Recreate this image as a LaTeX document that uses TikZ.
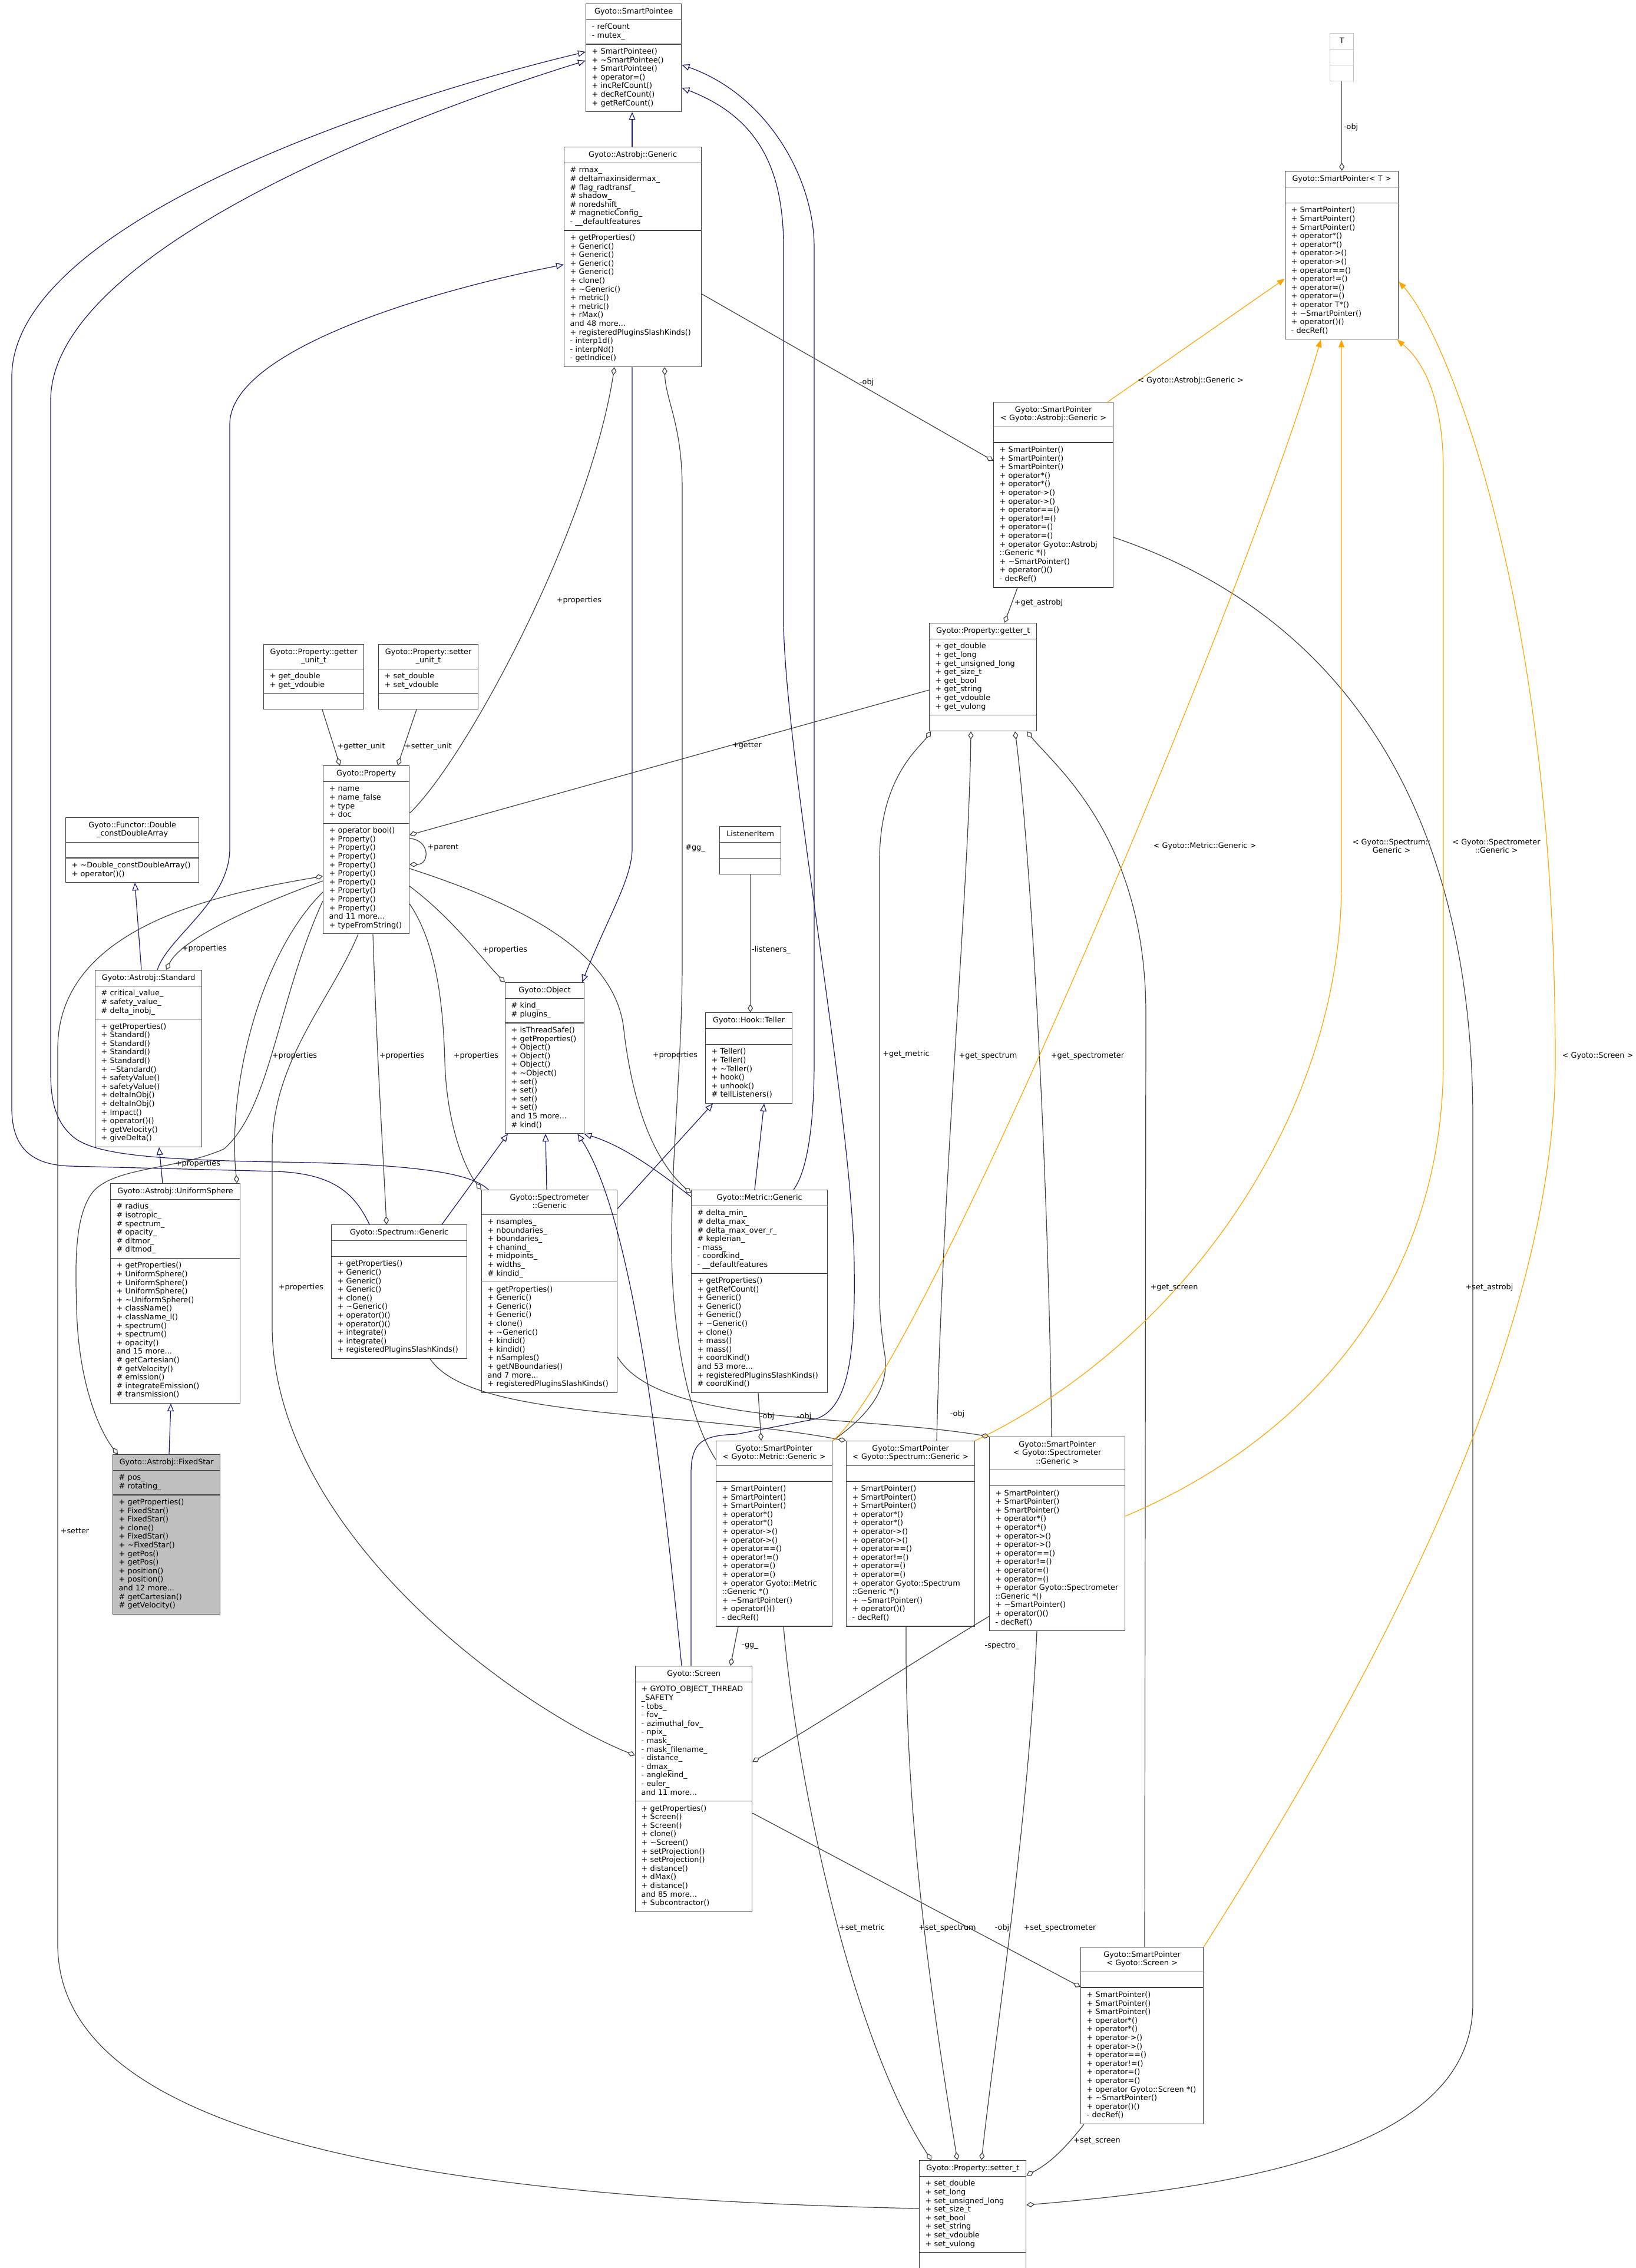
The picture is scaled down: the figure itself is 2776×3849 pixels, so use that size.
\documentclass[tikz,border=0pt]{standalone}
\usepackage{fontspec}
\setmainfont{DejaVu Sans}
\usetikzlibrary{shapes.multipart,arrows.meta,calc}
\definecolor{edgegray}{HTML}{404040}
\definecolor{inhblue}{HTML}{191970}
\definecolor{instorange}{HTML}{FFA500}
\definecolor{focusgray}{HTML}{BFBFBF}
\setlength{\parindent}{0pt}
\newcommand\tld{\textasciitilde}
\newcommand\umlclass[8][]{%
  \node[cls,#1,anchor=north west,text width=#5pt] (#2) at (#3,#4)
  {\centering\strut#6\strut\par\nodepart{two}\raggedright\strut#7\strut\par\nodepart{three}\raggedright\strut#8\strut\par};}
\newcommand\spmethods[1]{+ SmartPointer()\\+ SmartPointer()\\+ SmartPointer()\\+ operator*()\\+ operator*()\\+ operator->()\\+ operator->()\\+ operator==()\\+ operator!=()\\+ operator=()\\+ operator=()\\#1\\+ \tld SmartPointer()\\+ operator()()\\- decRef()}
\begin{document}
\begin{tikzpicture}[x=1pt,y=-1pt,
  cls/.style={draw=edgegray, line width=1.3pt, fill=white, rectangle split, rectangle split parts=3,
    inner xsep=10pt, inner ysep=5.5pt, font=\fontsize{12.8}{14.6}\selectfont, text=black},
  lbl/.style={font=\fontsize{12.8}{14.6}\selectfont, inner sep=0pt, align=center, text=black},
  inh/.style={draw=inhblue, line width=1.2pt, -{Triangle[open,length=13pt,width=11pt]}},
  agg/.style={draw=edgegray, line width=1.2pt, -{Diamond[open,length=14pt,width=9pt]}},
  inst/.style={draw=instorange, line width=1.2pt, -{Triangle[length=13pt,width=10pt]}}]
\fill[white] (0,0) rectangle (2776,3849);
\useasboundingbox (0,0) rectangle (2776,3849);

% ---------------- classes ----------------
\umlclass{spee}{994}{6}{142}{Gyoto::SmartPointee}
 {- refCount\\- mutex\_}
 {+ SmartPointee()\\+ \tld SmartPointee()\\+ SmartPointee()\\+ operator=()\\+ incRefCount()\\+ decRefCount()\\+ getRefCount()}

\umlclass{agen}{957}{249}{213}{Gyoto::Astrobj::Generic}
 {\# rmax\_\\\# deltamaxinsidermax\_\\\# flag\_radtransf\_\\\# shadow\_\\\# noredshift\_\\\# magneticConfig\_\\- \_\_defaultfeatures}
 {+ getProperties()\\+ Generic()\\+ Generic()\\+ Generic()\\+ Generic()\\+ clone()\\+ \tld Generic()\\+ metric()\\+ metric()\\+ rMax()\\and 48 more...\\+ registeredPluginsSlashKinds()\\- interp1d()\\- interpNd()\\- getIndice()}

\umlclass[draw=focusgray]{tT}{2257}{56}{20}{T}{}{}

\umlclass{spT}{2181}{290}{172}{Gyoto::SmartPointer< T >}{}
 {\spmethods{+ operator T*()}}

\umlclass{spA}{1686}{682}{183}{Gyoto::SmartPointer\\< Gyoto::Astrobj::Generic >}{}
 {\spmethods{+ operator Gyoto::Astrobj\\::Generic *()}}

\umlclass{gett}{1577}{1057}{162}{Gyoto::Property::getter\_t}
 {+ get\_double\\+ get\_long\\+ get\_unsigned\_long\\+ get\_size\_t\\+ get\_bool\\+ get\_string\\+ get\_vdouble\\+ get\_vulong}{}

\umlclass{gunit}{447}{1093}{150}{Gyoto::Property::getter\\\_unit\_t}
 {+ get\_double\\+ get\_vdouble}{}

\umlclass{sunit}{642}{1093}{149}{Gyoto::Property::setter\\\_unit\_t}
 {+ set\_double\\+ set\_vdouble}{}

\umlclass{prop}{548}{1299}{126}{Gyoto::Property}
 {+ name\\+ name\_false\\+ type\\+ doc}
 {+ operator bool()\\+ Property()\\+ Property()\\+ Property()\\+ Property()\\+ Property()\\+ Property()\\+ Property()\\+ Property()\\+ Property()\\and 11 more...\\+ typeFromString()}

\umlclass{func}{111}{1387}{206}{Gyoto::Functor::Double\\\_constDoubleArray}{}
 {+ \tld Double\_constDoubleArray()\\+ operator()()}

\umlclass{std}{161}{1646}{161}{Gyoto::Astrobj::Standard}
 {\# critical\_value\_\\\# safety\_value\_\\\# delta\_inobj\_}
 {+ getProperties()\\+ Standard()\\+ Standard()\\+ Standard()\\+ Standard()\\+ \tld Standard()\\+ safetyValue()\\+ safetyValue()\\+ deltaInObj()\\+ deltaInObj()\\+ Impact()\\+ operator()()\\+ getVelocity()\\+ giveDelta()}

\umlclass{usph}{187}{2008}{200}{Gyoto::Astrobj::UniformSphere}
 {\# radius\_\\\# isotropic\_\\\# spectrum\_\\\# opacity\_\\\# dltmor\_\\\# dltmod\_}
 {+ getProperties()\\+ UniformSphere()\\+ UniformSphere()\\+ UniformSphere()\\+ \tld UniformSphere()\\+ className()\\+ className\_l()\\+ spectrum()\\+ spectrum()\\+ opacity()\\and 15 more...\\\# getCartesian()\\\# getVelocity()\\\# emission()\\\# integrateEmission()\\\# transmission()}

\umlclass[fill=focusgray]{fstar}{191}{2468}{162}{Gyoto::Astrobj::FixedStar}
 {\# pos\_\\\# rotating\_}
 {+ getProperties()\\+ FixedStar()\\+ FixedStar()\\+ clone()\\+ FixedStar()\\+ \tld FixedStar()\\+ getPos()\\+ getPos()\\+ position()\\+ position()\\and 12 more...\\\# getCartesian()\\\# getVelocity()}

\umlclass{spec}{562}{2078}{210}{Gyoto::Spectrum::Generic}{}
 {+ getProperties()\\+ Generic()\\+ Generic()\\+ Generic()\\+ clone()\\+ \tld Generic()\\+ operator()()\\+ operator()()\\+ integrate()\\+ integrate()\\+ registeredPluginsSlashKinds()}

\umlclass{smtr}{817}{2019}{210}{Gyoto::Spectrometer\\::Generic}
 {+ nsamples\_\\+ nboundaries\_\\+ boundaries\_\\+ chanind\_\\+ midpoints\_\\+ widths\_\\\# kindid\_}
 {+ getProperties()\\+ Generic()\\+ Generic()\\+ Generic()\\+ clone()\\+ \tld Generic()\\+ kindid()\\+ kindid()\\+ nSamples()\\+ getNBoundaries()\\and 7 more...\\+ registeredPluginsSlashKinds()}

\umlclass{obj}{857}{1667}{114}{Gyoto::Object}
 {\# kind\_\\\# plugins\_}
 {+ isThreadSafe()\\+ getProperties()\\+ Object()\\+ Object()\\+ Object()\\+ \tld Object()\\+ set()\\+ set()\\+ set()\\+ set()\\and 15 more...\\\# kind()}

\umlclass{lst}{1221}{1402}{84}{ListenerItem}{}{}

\umlclass{tel}{1197}{1718}{127}{Gyoto::Hook::Teller}{}
 {+ Teller()\\+ Teller()\\+ \tld Teller()\\+ hook()\\+ unhook()\\\# tellListeners()}

\umlclass{met}{1173}{2019}{211}{Gyoto::Metric::Generic}
 {\# delta\_min\_\\\# delta\_max\_\\\# delta\_max\_over\_r\_\\\# keplerian\_\\- mass\_\\- coordkind\_\\- \_\_defaultfeatures}
 {+ getProperties()\\+ getRefCount()\\+ Generic()\\+ Generic()\\+ Generic()\\+ \tld Generic()\\+ clone()\\+ mass()\\+ mass()\\+ coordKind()\\and 53 more...\\+ registeredPluginsSlashKinds()\\\# coordKind()}

\umlclass{spM}{1215}{2445}{177}{Gyoto::SmartPointer\\< Gyoto::Metric::Generic >}{}
 {\spmethods{+ operator Gyoto::Metric\\::Generic *()}}

\umlclass{spS}{1436}{2445}{198}{Gyoto::SmartPointer\\< Gyoto::Spectrum::Generic >}{}
 {\spmethods{+ operator Gyoto::Spectrum\\::Generic *()}}

\umlclass{spR}{1679}{2438}{210}{Gyoto::SmartPointer\\< Gyoto::Spectrometer\\::Generic >}{}
 {\spmethods{+ operator Gyoto::Spectrometer\\::Generic *()}}

\umlclass{scr}{1078}{2827}{178}{Gyoto::Screen}
 {+ GYOTO\_OBJECT\_THREAD\\\_SAFETY\\- tobs\_\\- fov\_\\- azimuthal\_fov\_\\- npix\_\\- mask\_\\- mask\_filename\_\\- distance\_\\- dmax\_\\- anglekind\_\\- euler\_\\and 11 more...}
 {+ getProperties()\\+ Screen()\\+ Screen()\\+ clone()\\+ \tld Screen()\\+ setProjection()\\+ setProjection()\\+ distance()\\+ dMax()\\+ distance()\\and 85 more...\\+ Subcontractor()}

\umlclass{spC}{1834}{3304}{188}{Gyoto::SmartPointer\\< Gyoto::Screen >}{}
 {\spmethods{+ operator Gyoto::Screen *()}}

\umlclass{sett}{1560}{3666}{161}{Gyoto::Property::setter\_t}
 {+ set\_double\\+ set\_long\\+ set\_unsigned\_long\\+ set\_size\_t\\+ set\_bool\\+ set\_string\\+ set\_vdouble\\+ set\_vulong}{}

% ---------------- inheritance (blue) ----------------
\draw[inh] ($(agen.north west)+(116,0)$) -- ($(spee.south west)+(79,0)$);
\draw[inh] ($(agen.south west)+(116,0)$) -- (1073,1440) .. controls (1073,1490) and (1035,1550) .. ($(obj.north west)+(131,0)$);
\draw[inh] ($(std.north west)+(106,0)$) .. controls (285,1590) and (390,1530) .. (390,1440) -- (390,720) .. controls (390,600) and (700,500) .. ($(agen.north west)+(0,200)$);
\draw[inh] ($(std.north west)+(79,0)$) -- ($(func.south west)+(118,0)$);
\draw[inh] ($(usph.north west)+(89,0)$) -- ($(std.south west)+(109,0)$);
\draw[inh] ($(fstar.north west)+(96,0)$) -- ($(usph.south west)+(103,0)$);
\draw[inh] ($(spec.north west)+(65,0)$) .. controls (600,2020) and (560,1992) .. (470,1988) -- (120,1979) .. controls (50,1977) and (20,1945) .. (20,1880) -- (20,640) .. controls (20,380) and (650,170) .. ($(spee.north west)+(0,82)$);
\draw[inh] ($(smtr.north west)+(12,0)$) .. controls (800,1990) and (700,1975) .. (470,1972) .. controls (250,1968) and (160,1958) .. (125,1930) .. controls (95,1905) and (86,1870) .. (86,1820) -- (86,680) .. controls (86,430) and (680,200) .. ($(spee.north west)+(0,97)$);
\draw[inh] ($(met.north west)+(174,0)$) .. controls (1372,1985) and (1382,1900) .. (1382,1800) -- (1382,420) .. controls (1382,300) and (1300,160) .. ($(spee.north east)+(0,104)$);
\draw[inh] ($(scr.north west)+(95,0)$) -- (1173,2500) .. controls (1173,2445) and (1195,2436) .. (1250,2434) -- (1385,2408) .. controls (1440,2390) and (1452,2300) .. (1450,2150) .. controls (1448,1900) and (1335,1300) .. (1330,1060) -- (1330,420) .. controls (1330,290) and (1290,200) .. ($(spee.north east)+(0,143)$);
\draw[inh] ($(spec.north west)+(188,0)$) -- ($(obj.south west)+(5,0)$);
\draw[inh] ($(smtr.north west)+(111,0)$) -- ($(obj.south west)+(69,0)$);
\draw[inh] ($(smtr.north east)+(0,32)$) -- ($(tel.south west)+(13,0)$);
\draw[inh] ($(met.north west)+(0,12)$) .. controls (1120,1990) and (1060,1945) .. ($(obj.south east)+(-1,0)$);
\draw[inh] ($(met.north west)+(108,0)$) -- ($(tel.south west)+(100,0)$);
\draw[inh] ($(scr.north west)+(79,0)$) .. controls (1120,2450) and (1070,2060) .. ($(obj.south east)+(-12,0)$);

% ---------------- aggregation (gray) ----------------
\draw[agg] (tT.south) -- (tT.south |- spT.north);
\draw[agg] ($(agen.north east)+(0,250)$) -- ($(spA.north west)+(0,100)$);
\draw[agg] ($(spA.south west)+(41,0)$) -- ($(gett.north west)+(128,0)$);
\draw[agg] ($(spA.north east)+(0,230)$) .. controls (2300,1050) and (2500,1400) .. (2500,1900) -- (2500,3400) .. controls (2500,3650) and (2100,3712) .. ($(sett.north east)+(0,76)$);
\draw[agg] ($(gunit.south west)+(100,0)$) -- ($(prop.north west)+(29,0)$);
\draw[agg] ($(sunit.south west)+(65,0)$) -- ($(prop.north west)+(127,0)$);
\draw[agg] ($(gett.north west)+(0,114)$) -- ($(prop.north east)+(0,118)$);
\draw[agg] ($(prop.north east)+(0,124)$) .. controls (730,1425) and (730,1467) .. ($(prop.north east)+(0,168)$);
\draw[agg] (lst.south) -- (lst.south |- tel.north);
\draw[agg] ($(spM.north west)+(0,32)$) .. controls (1165,2400) and (1140,2250) .. (1140,2114) .. controls (1140,1950) and (1158,1800) .. (1158,1631) -- (1158,830) .. controls (1158,720) and (1130,680) .. ($(agen.south west)+(171,0)$);
\draw[agg] (spM.north east) .. controls (1470,2405) and (1510,2360) .. (1502,2300) .. controls (1494,2250) and (1493,2220) .. (1493,2190) -- (1493,1460) .. controls (1493,1320) and (1560,1270) .. ($(gett.south west)+(3,0)$);
\draw[agg] ($(met.south west)+(114,0)$) -- ($(spM.north west)+(77,0)$);
\draw[agg] ($(spec.south west)+(168,0)$) .. controls (800,2410) and (1150,2392) .. (spS.north west);
\draw[agg] ($(smtr.north east)+(0,284)$) .. controls (1120,2420) and (1450,2400) .. (spR.north west);
\draw[agg] ($(spS.north west)+(154,0)$) .. controls (1600,2000) and (1645,1500) .. ($(gett.south west)+(71,0)$);
\draw[agg] ($(spR.north west)+(106,0)$) .. controls (1780,2000) and (1750,1450) .. ($(gett.south west)+(146,0)$);
\draw[agg] ($(spC.north west)+(109,0)$) -- (1945,1720) .. controls (1945,1420) and (1790,1300) .. ($(gett.south west)+(166,0)$);
\draw[agg] ($(spM.south west)+(38,0)$) -- ($(scr.north west)+(162,0)$);
\draw[agg] ($(spR.north west)+(0,305)$) .. controls (1550,2820) and (1400,2920) .. ($(scr.north east)+(0,163)$);
\draw[agg] ($(scr.north east)+(0,250)$) -- ($(spC.north west)+(0,68)$);
\draw[agg] ($(spM.south west)+(115,0)$) .. controls (1350,3000) and (1440,3450) .. ($(sett.north west)+(21,0)$);
\draw[agg] ($(spS.south west)+(102,0)$) .. controls (1535,3100) and (1590,3450) .. ($(sett.north west)+(65,0)$);
\draw[agg] ($(spR.south west)+(81,0)$) .. controls (1745,3100) and (1690,3450) .. ($(sett.north west)+(106,0)$);
\draw[agg] ($(spC.south west)+(6,0)$) .. controls (1805,3650) and (1780,3672) .. ($(sett.north east)+(0,26)$);
\draw[agg] ($(sett.north west)+(0,82)$) .. controls (700,3730) and (98,3620) .. (98,3300) -- (98,1780) .. controls (98,1580) and (350,1520) .. ($(prop.north west)+(0,188)$);
% +properties
\draw[agg] ($(prop.north east)+(0,81)$) .. controls (790,1290) and (1000,900) .. ($(agen.south west)+(86,0)$);
\draw[agg] ($(prop.north west)+(0,196)$) .. controls (450,1530) and (310,1590) .. ($(std.north west)+(121,0)$);
\draw[agg] ($(prop.north east)+(0,205)$) .. controls (770,1560) and (820,1630) .. (obj.north west);
\draw[agg] ($(prop.north east)+(0,235)$) .. controls (740,1600) and (752,1700) .. (755,1800) .. controls (758,1910) and (790,1985) .. (smtr.north west);
\draw[agg] ($(prop.south west)+(85,0)$) .. controls (640,1800) and (650,1950) .. ($(spec.north west)+(94,0)$);
\draw[agg] ($(prop.north west)+(0,215)$) .. controls (440,1620) and (385,1850) .. ($(usph.north east)+(-6,0)$);
\draw[agg] ($(prop.north west)+(0,230)$) .. controls (470,1700) and (460,1880) .. (380,1950) .. controls (300,1985) and (200,1980) .. (160,2020) .. controls (125,2060) and (128,2150) .. (130,2220) .. controls (133,2350) and (170,2430) .. ($(fstar.north west)+(9,0)$);
\draw[agg] ($(prop.south west)+(60,0)$) .. controls (560,1700) and (462,1800) .. (462,1950) -- (462,2250) .. controls (462,2600) and (880,2900) .. ($(scr.north west)+(0,152)$);
\draw[agg] ($(prop.north east)+(0,175)$) .. controls (900,1540) and (1040,1620) .. (1058,1740) .. controls (1070,1850) and (1100,1960) .. ($(met.north west)+(0,6)$);

% ---------------- template instances (orange) ----------------
\draw[inst] ($(spA.north east)+(-10,0)$) -- ($(spT.north west)+(0,183)$);
\draw[inst] (spM.north east) .. controls (1560,2330) and (2120,1000) .. ($(spT.south west)+(61,0)$);
\draw[inst] (spS.north east) .. controls (2000,2280) and (2277,1900) .. (2277,1500) -- ($(spT.south west)+(96,0)$);
\draw[inst] ($(spR.north east)+(0,135)$) .. controls (2200,2450) and (2450,2200) .. (2450,1800) -- (2450,800) .. controls (2450,650) and (2400,600) .. ($(spT.south east)+(-3,0)$);
\draw[inst] (spC.north east) .. controls (2300,2900) and (2640,2300) .. (2640,1800) .. controls (2640,1000) and (2450,560) .. ($(spT.north east)+(0,188)$);

% ---------------- labels ----------------
\node[lbl] (lb1) at (2293,216) {-obj};
\node[lbl] (lb2) at (1471,649) {-obj};
\node[lbl] (lb3) at (1763,1023) {+get\_astrobj};
\node[lbl] (lb4) at (613,1267) {+getter\_unit};
\node[lbl] (lb5) at (727,1267) {+setter\_unit};
\node[lbl] (lb6) at (1268,1265) {+getter};
\node[lbl] (lb7) at (752,1438) {+parent};
\node[lbl] (lb8) at (1180,1439) {\#gg\_};
\node[lbl] (lb9) at (1309,1612) {-listeners\_};
\node[lbl] (lb10) at (983,1019) {+properties};
\node[lbl] (lb11) at (347,1610) {+properties};
\node[lbl] (lb12) at (857,1612) {+properties};
\node[lbl] (lb13) at (500,1792) {+properties};
\node[lbl] (lb14) at (682,1792) {+properties};
\node[lbl] (lb15) at (808,1792) {+properties};
\node[lbl] (lb16) at (1146,1791) {+properties};
\node[lbl] (lb17) at (336,1975) {+properties};
\node[lbl] (lb18) at (511,2185) {+properties};
\node[lbl] (lb19) at (1538,1789) {+get\_metric};
\node[lbl] (lb20) at (1677,1792) {+get\_spectrum};
\node[lbl] (lb21) at (1846,1792) {+get\_spectrometer};
\node[lbl] (lb22) at (1993,2185) {+get\_screen};
\node[lbl] (lb23) at (2528,2185) {+set\_astrobj};
\node[lbl] (lb24) at (1302,2404) {-obj};
\node[lbl] (lb25) at (1365,2404) {-obj};
\node[lbl] (lb26) at (1625,2400) {-obj};
\node[lbl] (lb27) at (1273,2793) {-gg\_};
\node[lbl] (lb28) at (1701,2793) {-spectro\_};
\node[lbl] (lb29) at (127,2598) {+setter};
\node[lbl] (lb30) at (1463,3272) {+set\_metric};
\node[lbl] (lb31) at (1608,3272) {+set\_spectrum};
\node[lbl] (lb32) at (1701,3272) {-obj};
\node[lbl] (lb33) at (1799,3272) {+set\_spectrometer};
\node[lbl] (lb34) at (1862,3633) {+set\_screen};
\node[lbl] (lb35) at (2021,646) {< Gyoto::Astrobj::Generic >};
\node[lbl] (lb36) at (2045,1436) {< Gyoto::Metric::Generic >};
\node[lbl] (lb37) at (2362,1436) {< Gyoto::Spectrum::\\Generic >};
\node[lbl] (lb38) at (2540,1436) {< Gyoto::Spectrometer\\::Generic >};
\node[lbl] (lb39) at (2712,1792) {< Gyoto::Screen >};
\end{tikzpicture}
\end{document}
